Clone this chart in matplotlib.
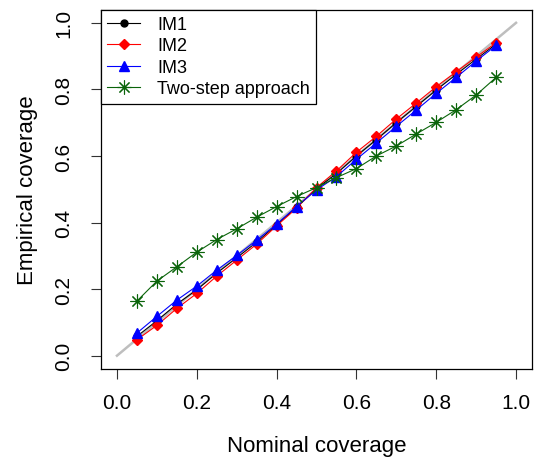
import numpy as np
import matplotlib.pyplot as plt

plt.rcParams['font.family'] = ['Liberation Sans', 'DejaVu Sans']

# nominal coverage levels
nominal = [0.05, 0.10, 0.15, 0.20, 0.25, 0.30, 0.35, 0.40, 0.45, 0.50,
           0.55, 0.60, 0.65, 0.70, 0.75, 0.80, 0.85, 0.90, 0.95]
# empirical coverage per method
im1 = [0.058, 0.105, 0.155, 0.198, 0.248, 0.294, 0.341, 0.393, 0.446, 0.502,
       0.547, 0.600, 0.649, 0.700, 0.749, 0.798, 0.845, 0.891, 0.936]
im2 = [0.048, 0.091, 0.142, 0.187, 0.239, 0.287, 0.335, 0.390, 0.443, 0.505,
       0.555, 0.611, 0.659, 0.711, 0.759, 0.808, 0.853, 0.897, 0.940]
im3 = [0.068, 0.118, 0.167, 0.209, 0.257, 0.301, 0.347, 0.395, 0.448, 0.498,
       0.538, 0.590, 0.639, 0.689, 0.738, 0.788, 0.836, 0.885, 0.932]
twostep = [0.164, 0.224, 0.267, 0.311, 0.349, 0.381, 0.416, 0.448, 0.478, 0.505,
           0.535, 0.562, 0.600, 0.630, 0.666, 0.701, 0.739, 0.783, 0.836]
labels = ['IM1', 'IM2', 'IM3', 'Two-step approach']
ticks = [0.0, 0.2, 0.4, 0.6, 0.8, 1.0]

fig = plt.figure(figsize=(5.37, 4.64), dpi=100)
ax = fig.add_axes([101/537, (464-370)/464, (532-101)/537, (370-10.5)/464])

ax.plot([0, 1], [0, 1], color='#bebebe', linewidth=1.8, zorder=1)
ax.plot(nominal, im1, color='black', linewidth=0.8, marker='o', markersize=5, label=labels[0])
ax.plot(nominal, im2, color='#ff0000', linewidth=0.8, marker='D', markersize=5, label=labels[1])
ax.plot(nominal, im3, color='#0000ff', linewidth=0.8, marker='^', markersize=6.5, label=labels[2])
ax.plot(nominal, twostep, color='#0a640a', linewidth=0.8, marker=(8, 2, 0), markersize=10,
        markeredgewidth=0.8, label=labels[3])

ax.set_xlim(-0.04, 1.04)
ax.set_ylim(-0.04, 1.04)
ax.set_xticks(ticks)
ax.set_yticks(ticks)
ax.set_xticklabels(['%.1f' % t for t in ticks])
ax.set_yticklabels(['%.1f' % t for t in ticks], rotation=90, va='center')
ax.tick_params(axis='both', labelsize=15, length=7, width=0.8, color='#333333')
ax.tick_params(axis='x', pad=10)
ax.tick_params(axis='y', pad=13)
for s in ax.spines.values():
    s.set_linewidth(0.9)
ax.set_xlabel('Nominal coverage', fontsize=16, labelpad=17)
ax.set_ylabel('Empirical coverage', fontsize=16, labelpad=12)

leg = ax.legend(loc='upper left', bbox_to_anchor=(0, 1), borderaxespad=0, fontsize=13,
                fancybox=False, edgecolor='black', framealpha=1, handlelength=1.8,
                handletextpad=0.95, labelspacing=0.25, borderpad=0.35)
leg.get_frame().set_linewidth(0.9)

fig.savefig('out.png', dpi=100)
